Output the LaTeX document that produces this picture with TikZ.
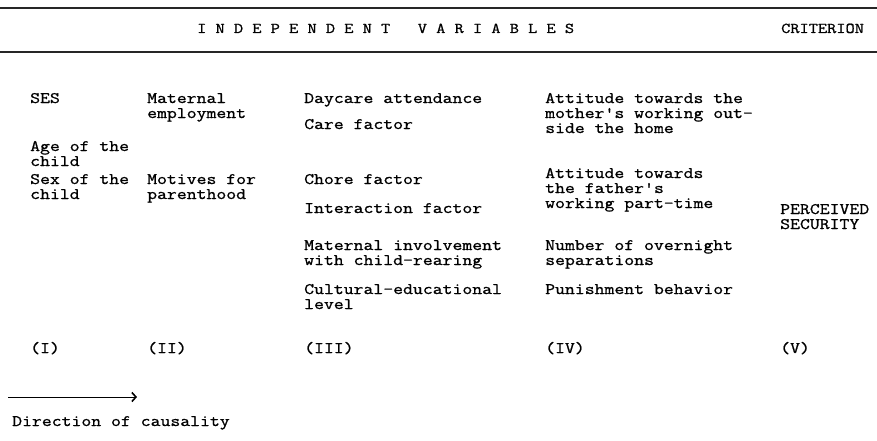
\documentclass[tikz,border=0pt]{standalone}
\usepackage{fontspec}
\newfontfamily\tw[FakeBold=1.0,FakeStretch=1.2]{Latin Modern Mono}
\newfontfamily\twh[FakeBold=1.0,FakeStretch=1.19]{Latin Modern Mono}
\usetikzlibrary{arrows.meta}
\tikzset{
  txt/.style={anchor=base west, inner sep=0pt, align=left, font={\tw\fontsize{16pt}{15pt}\selectfont}},
  hdr/.style={anchor=base west, inner sep=0pt, font={\twh\fontsize{15pt}{15pt}\selectfont}},
  rule/.style={line width=1.3pt, black!85},
}
\begin{document}
\begin{tikzpicture}[x=1pt, y=-1pt]
\useasboundingbox (0,0) rectangle (877,441);
% rules
\coordinate (r1a) at (0,8); \coordinate (r1b) at (877,8);
\coordinate (r2a) at (0,52); \coordinate (r2b) at (877,52);
\draw[rule] (r1a) -- (r1b);
\draw[rule] (r2a) -- (r2b);
% header
\node[hdr] (indep) at (197,33) {I N D E P E N D E N T~~~V A R I A B L E S};
\node[hdr] (crit) at (781,33) {CRITERION};
% column I (base = last line)
\node[txt] (ses) at (30,103) {SES};
\node[txt] (age) at (30,166) {Age of the\\child};
\node[txt] (sex) at (30,199) {Sex of the\\child};
% column II
\node[txt] (matemp) at (147,118) {Maternal\\employment};
\node[txt] (motives) at (147,199) {Motives for\\parenthood};
% column III
\node[txt] (daycare) at (304,103) {Daycare attendance};
\node[txt] (care) at (304,129) {Care factor};
\node[txt] (chore) at (304,184) {Chore factor};
\node[txt] (inter) at (304,213) {Interaction factor};
\node[txt] (involve) at (304,265) {Maternal involvement\\with child-rearing};
\node[txt] (cultural) at (304,309) {Cultural-educational\\level};
% column IV
\node[txt] (attmother) at (545,133) {Attitude towards the\\mother's working out-\\side the home};
\node[txt] (attfather) at (545,208) {Attitude towards\\the father's\\working part-time};
\node[txt] (overnight) at (545,265) {Number of overnight\\separations};
\node[txt] (punish) at (545,294) {Punishment behavior};
% column V
\node[txt] (perceived) at (780,229) {PERCEIVED\\SECURITY};
% roman numerals
\node[txt] (n1) at (30,353) {(I)};
\node[txt] (n2) at (147,353) {(II)};
\node[txt] (n3) at (304,353) {(III)};
\node[txt] (n4) at (545,353) {(IV)};
\node[txt] (n5) at (780,353) {(V)};
% causality arrow
\coordinate (ca) at (8,397);
\coordinate (cb) at (137,397);
\draw[line width=1pt, -{Straight Barb[length=4pt,width=9pt,line width=1.6pt]}] (ca) -- (cb);
\node[txt] (dir) at (12,426) {Direction of causality};
\end{tikzpicture}
\end{document}
